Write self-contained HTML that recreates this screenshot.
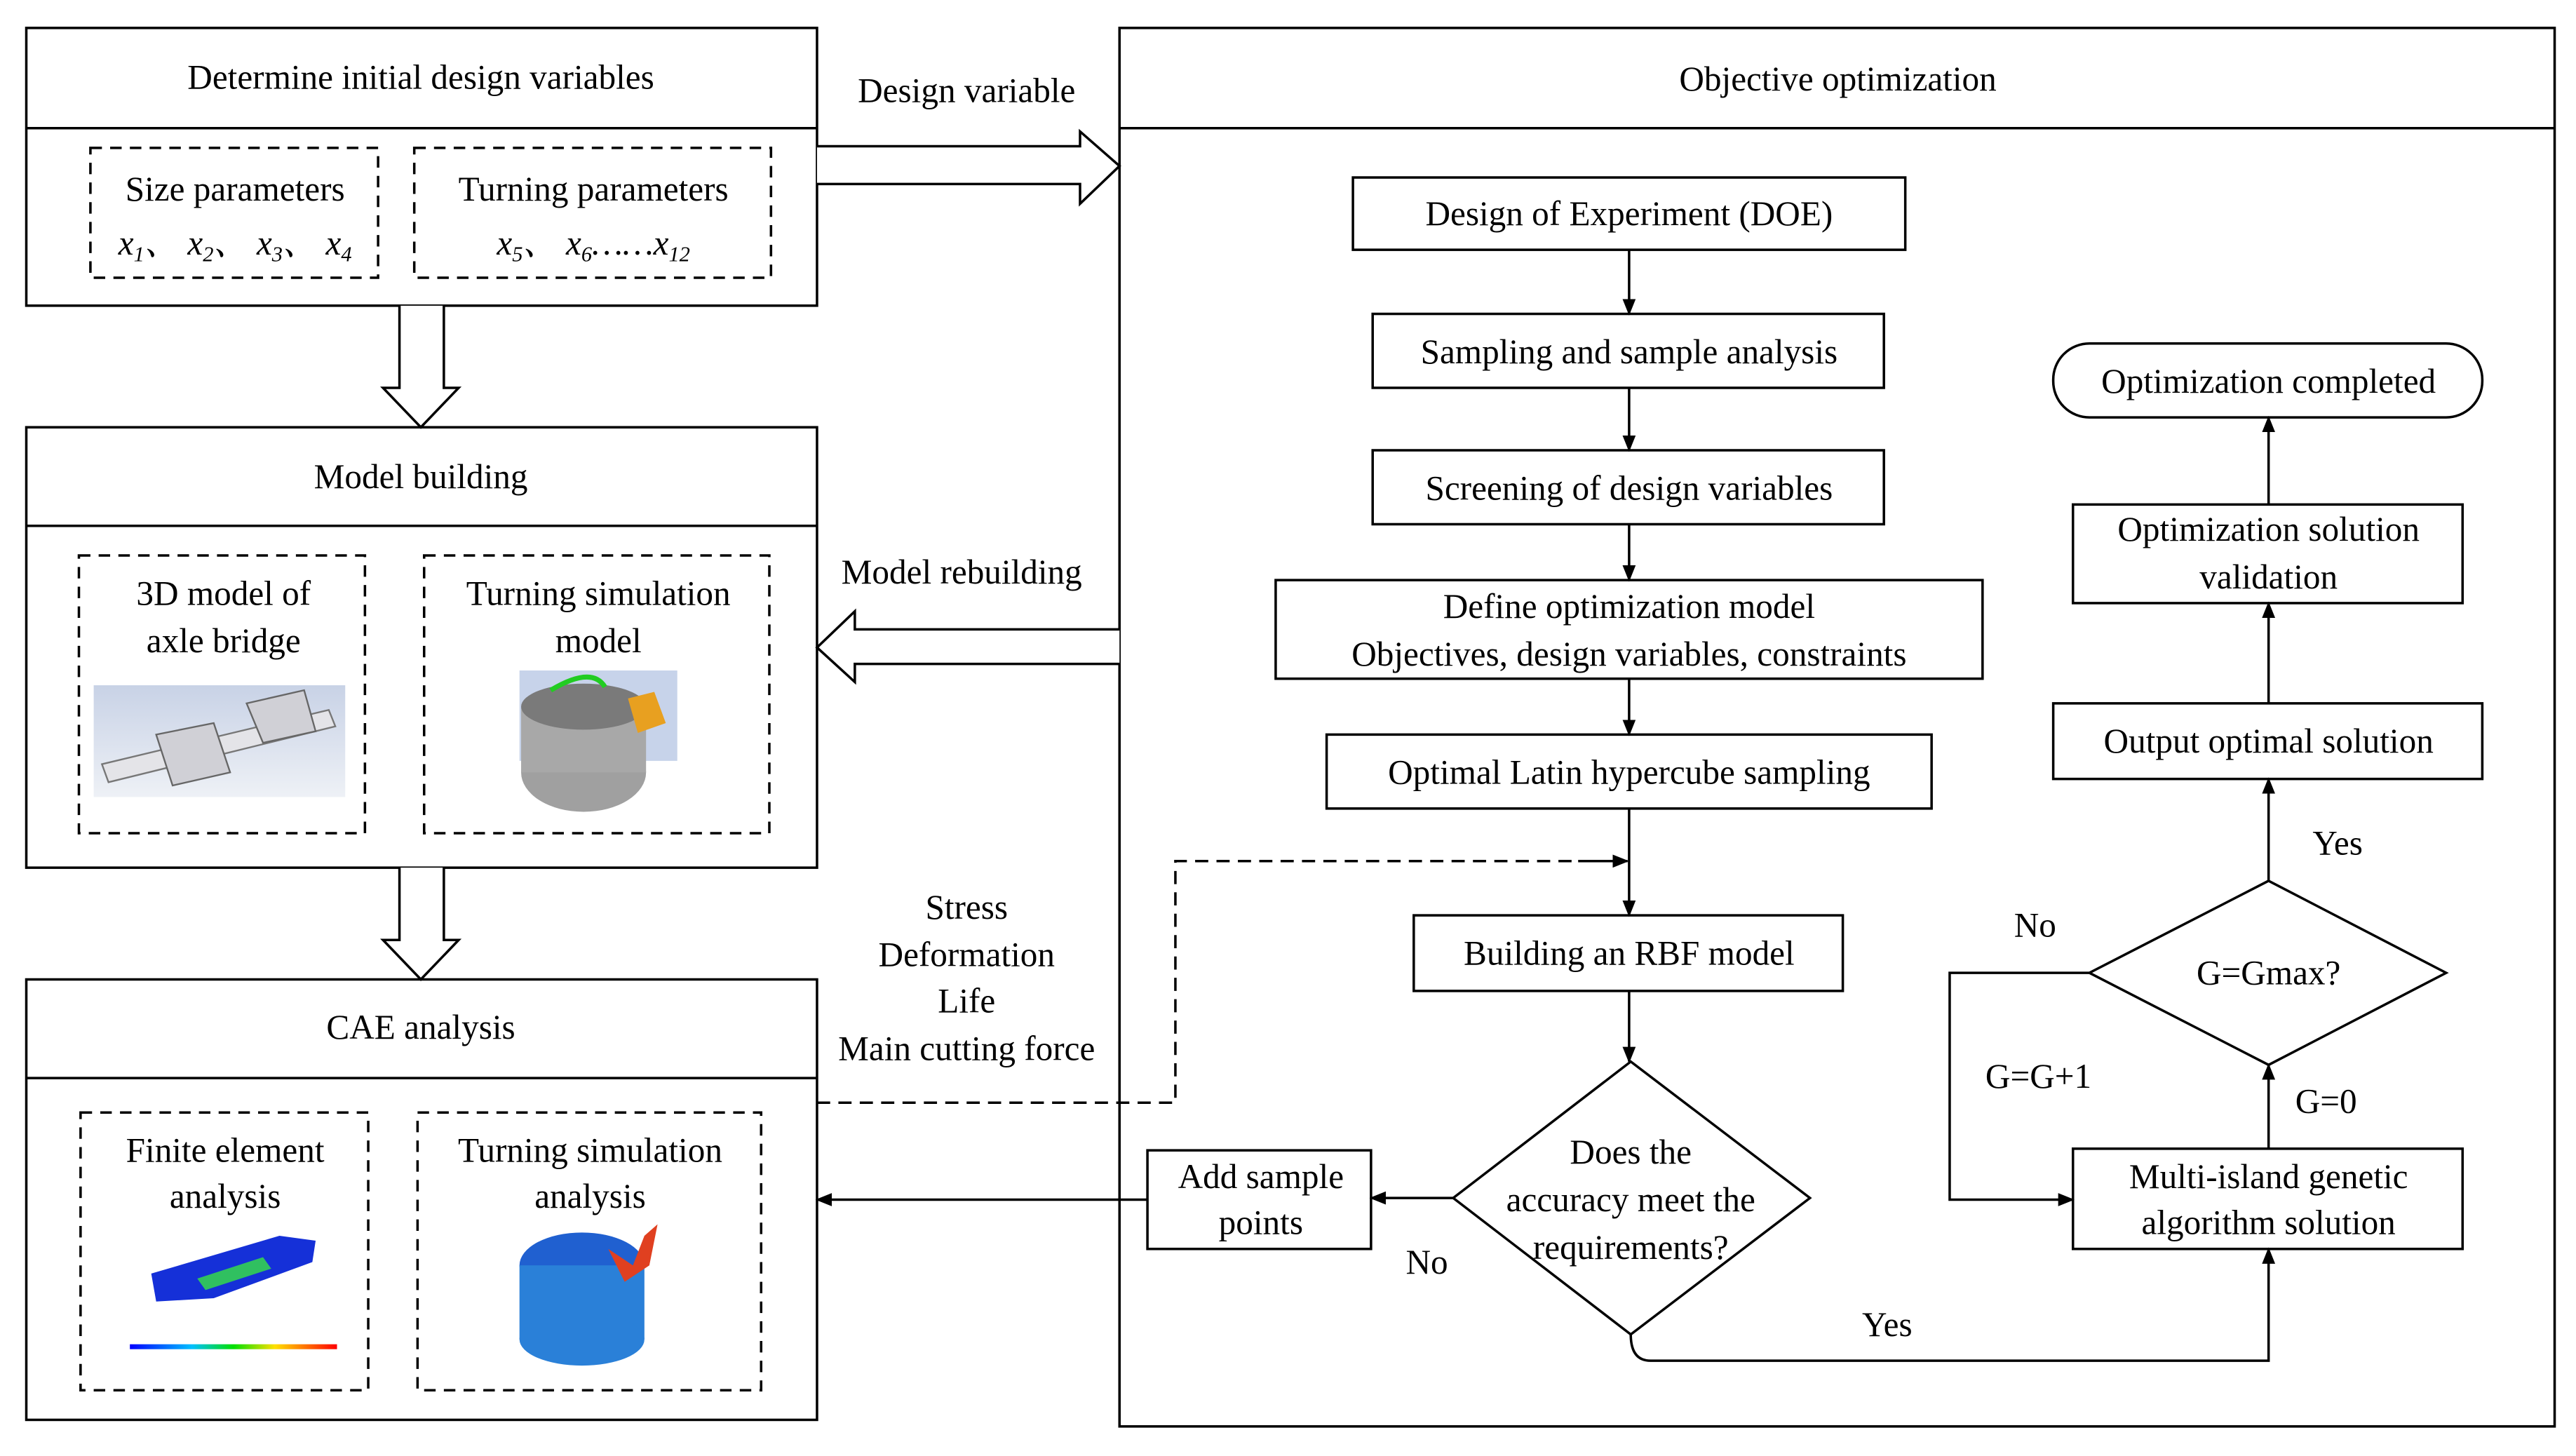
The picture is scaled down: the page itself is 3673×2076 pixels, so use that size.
<!DOCTYPE html>
<html><head><meta charset="utf-8"><style>
html,body{margin:0;padding:0;background:#fff;font-family:"Liberation Serif","DejaVu Serif","Noto Serif CJK SC",serif}
svg{display:block}
svg text{font-family:"Liberation Serif","DejaVu Serif","Noto Serif CJK SC",serif !important;font-size:21px;fill:#000}
</style></head><body>
<svg width="3673" height="2076" viewBox="0 0 1567 886" preserveAspectRatio="none" xmlns="http://www.w3.org/2000/svg">
<defs>
<marker id="a" markerWidth="10" markerHeight="10" refX="9" refY="5" orient="auto" markerUnits="userSpaceOnUse"><path d="M0,1 L10,5 L0,9 z" fill="#000"/></marker>
<linearGradient id="g1" x1="0" y1="0" x2="0" y2="1"><stop offset="0" stop-color="#c8d2e6"/><stop offset="1" stop-color="#eef1f6"/></linearGradient>
<linearGradient id="g2" x1="0" y1="0" x2="1" y2="0"><stop offset="0" stop-color="#0000ff"/><stop offset=".3" stop-color="#00c0ff"/><stop offset=".5" stop-color="#00e000"/><stop offset=".7" stop-color="#ffe000"/><stop offset="1" stop-color="#ff0000"/></linearGradient>
</defs>
<rect width="1567" height="886" fill="#fff"/>
<g fill="none" stroke="#000" stroke-width="1.5">
<rect x="16" y="17" width="481" height="169"/><line x1="16" y1="78" x2="497" y2="78"/>
<rect x="16" y="260" width="481" height="268"/><line x1="16" y1="320" x2="497" y2="320"/>
<rect x="16" y="596" width="481" height="268"/><line x1="16" y1="656" x2="497" y2="656"/>
<g stroke-dasharray="7,5">
<rect x="55" y="90" width="175" height="79"/><rect x="252" y="90" width="217" height="79"/>
<rect x="48" y="338" width="174" height="169"/><rect x="258" y="338" width="210" height="169"/>
<rect x="49" y="677" width="175" height="169"/><rect x="254" y="677" width="209" height="169"/>
</g>
<path d="M243,186 V236 H233 L256,260 L279,236 H270 V186" fill="#fff"/>
<path d="M243,528 V572 H233 L256,596 L279,572 H270 V528" fill="#fff"/>
<rect x="681" y="17" width="873" height="851"/><line x1="681" y1="78" x2="1554" y2="78"/>
<path d="M497,89 H657 V80 L681,101 L657,124 V112 H497" fill="#fff"/>
<path d="M681,383 H520 V372 L497,394 L520,415 V404 H681" fill="#fff"/>
<path d="M497,671 H715 V524 H980" stroke-dasharray="8,5"/>
<rect x="823" y="108" width="336" height="44"/>
<rect x="835" y="191" width="311" height="45"/>
<rect x="835" y="274" width="311" height="45"/>
<rect x="776" y="353" width="430" height="60"/>
<rect x="807" y="447" width="368" height="45"/>
<rect x="860" y="557" width="261" height="46"/>
<path d="M992,646 L1101,729 L992,812 L884,729 z"/>
<rect x="698" y="700" width="136" height="60"/>
<rect x="1261" y="699" width="237" height="61"/>
<path d="M1380,536 L1488,592 L1380,648 L1271,592 z"/>
<rect x="1249" y="428" width="261" height="46"/>
<rect x="1261" y="307" width="237" height="60"/>
<rect x="1249" y="209" width="261" height="45" rx="22"/>
<g marker-end="url(#a)">
<line x1="991" y1="152" x2="991" y2="191"/>
<line x1="991" y1="236" x2="991" y2="274"/>
<line x1="991" y1="319" x2="991" y2="353"/>
<line x1="991" y1="413" x2="991" y2="447"/>
<line x1="991" y1="492" x2="991" y2="557"/>
<line x1="991" y1="603" x2="991" y2="646"/>
<line x1="884" y1="729" x2="834" y2="729"/>
<line x1="698" y1="730" x2="497" y2="730"/>
<path d="M992,812 Q992,828 1004,828 H1380 V760"/>
<line x1="1380" y1="699" x2="1380" y2="648"/>
<path d="M1271,592 H1186 V730 H1261"/>
<line x1="1380" y1="536" x2="1380" y2="474"/>
<line x1="1380" y1="428" x2="1380" y2="367"/>
<line x1="1380" y1="307" x2="1380" y2="254"/>
<line x1="960" y1="524" x2="990" y2="524"/>
</g>
</g>
<rect x="57" y="417" width="153" height="68" fill="url(#g1)"/>
<path d="M62,465 L200,432 L204,442 L66,476 z" fill="#e4e4e8" stroke="#777"/>
<path d="M95,447 L130,440 L140,470 L105,478 z M150,428 L185,420 L192,445 L160,452 z" fill="#d0d0d6" stroke="#666"/>
<rect x="316" y="408" width="96" height="55" fill="#c7d3ea"/>
<ellipse cx="355" cy="470" rx="38" ry="24" fill="#a0a0a0"/>
<rect x="317" y="430" width="76" height="40" fill="#a8a8a8"/>
<ellipse cx="355" cy="430" rx="38" ry="14" fill="#7a7a7a"/>
<path d="M335,420 Q360,405 368,418" stroke="#2c2" stroke-width="3" fill="none"/>
<path d="M382,425 L398,421 L405,440 L388,446 z" fill="#e8a020"/>
<path d="M92,775 L170,752 L192,755 L190,768 L130,790 L95,792 z" fill="#1530d8"/>
<path d="M120,778 L160,765 L165,772 L125,785 z" fill="#30c060"/>
<rect x="79" y="818" width="126" height="3" fill="url(#g2)"/>
<ellipse cx="354" cy="770" rx="38" ry="20" fill="#2060d0"/>
<rect x="316" y="770" width="76" height="45" fill="#2a80d8"/>
<ellipse cx="354" cy="815" rx="38" ry="16" fill="#2a80d8"/>
<path d="M370,760 L385,770 L392,752 L400,745 L395,770 L380,780 z" fill="#e04020"/>
<g text-anchor="middle" font-family="Liberation Serif, DejaVu Serif, serif" font-size="21">
<text x="256" y="54">Determine initial design variables</text>
<text x="143" y="122">Size parameters</text>
<text x="143" y="155" font-style="italic">x<tspan font-size="13" dy="4">1</tspan><tspan dy="-4">、 x</tspan><tspan font-size="13" dy="4">2</tspan><tspan dy="-4">、 x</tspan><tspan font-size="13" dy="4">3</tspan><tspan dy="-4">、 x</tspan><tspan font-size="13" dy="4">4</tspan></text>
<text x="361" y="122">Turning parameters</text>
<text x="361" y="155" font-style="italic">x<tspan font-size="13" dy="4">5</tspan><tspan dy="-4">、 x</tspan><tspan font-size="13" dy="4">6</tspan><tspan dy="-4">……x</tspan><tspan font-size="13" dy="4">12</tspan></text>
<text x="256" y="297">Model building</text>
<text x="136" y="368">3D model of</text><text x="136" y="397">axle bridge</text>
<text x="364" y="368">Turning simulation</text><text x="364" y="397">model</text>
<text x="256" y="632">CAE analysis</text>
<text x="137" y="707">Finite element</text><text x="137" y="735">analysis</text>
<text x="359" y="707">Turning simulation</text><text x="359" y="735">analysis</text>
<text x="588" y="62">Design variable</text>
<text x="585" y="355">Model rebuilding</text>
<text x="588" y="559">Stress</text><text x="588" y="588">Deformation</text><text x="588" y="616">Life</text><text x="588" y="645">Main cutting force</text>
<text x="1118" y="55">Objective optimization</text>
<text x="991" y="137">Design of Experiment (DOE)</text>
<text x="991" y="221">Sampling and sample analysis</text>
<text x="991" y="304">Screening of design variables</text>
<text x="991" y="376">Define optimization model</text>
<text x="991" y="405">Objectives, design variables, constraints</text>
<text x="991" y="477">Optimal Latin hypercube sampling</text>
<text x="991" y="587">Building an RBF model</text>
<text x="992" y="708">Does the</text><text x="992" y="737">accuracy meet the</text><text x="992" y="766">requirements?</text>
<text x="767" y="723">Add sample</text><text x="767" y="751">points</text>
<text x="868" y="775">No</text>
<text x="1148" y="813">Yes</text>
<text x="1380" y="723">Multi-island genetic</text><text x="1380" y="751">algorithm solution</text>
<text x="1415" y="677">G=0</text>
<text x="1380" y="599">G=Gmax?</text>
<text x="1240" y="662">G=G+1</text>
<text x="1238" y="570">No</text>
<text x="1422" y="520">Yes</text>
<text x="1380" y="458">Output optimal solution</text>
<text x="1380" y="329">Optimization solution</text><text x="1380" y="358">validation</text>
<text x="1380" y="239">Optimization completed</text>
</g>
</svg>
</body></html>
